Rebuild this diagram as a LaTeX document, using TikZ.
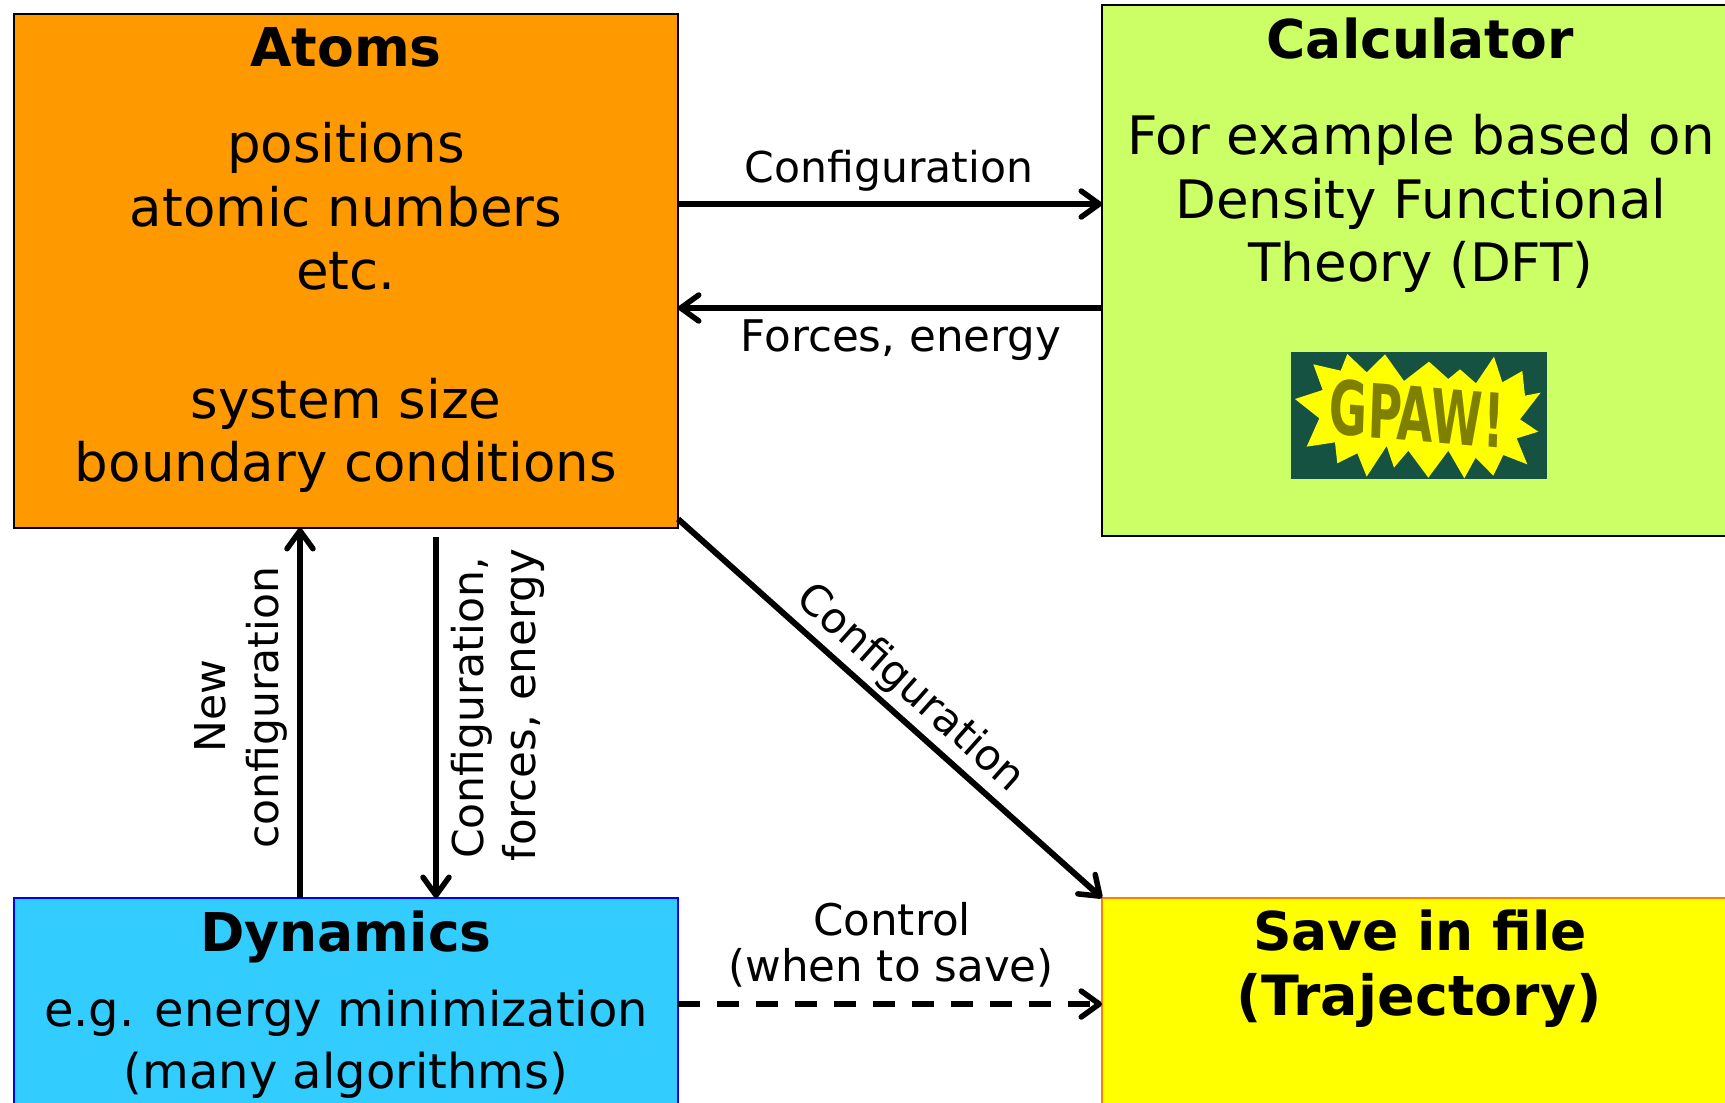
\documentclass[tikz,border=0pt]{standalone}
\usepackage{fontspec}
\setmainfont{DejaVu Sans}
\usetikzlibrary{arrows.meta}
\definecolor{atomsc}{HTML}{FF9900}
\definecolor{calcc}{HTML}{CCFF66}
\definecolor{dync}{HTML}{33CCFF}
\definecolor{savec}{HTML}{FFFF00}
\definecolor{gpawbg}{HTML}{155242}
\definecolor{gpawtx}{HTML}{808000}
\newcommand{\bigt}{\fontsize{53.5}{64}\selectfont}
\newcommand{\bodyt}{\fontsize{53}{64}\selectfont}
\newcommand{\midt}{\fontsize{48}{60}\selectfont}
\newcommand{\smallt}{\fontsize{42.5}{52}\selectfont}
\newcommand{\smallu}{\fontsize{43.6}{52}\selectfont}
\tikzset{
  boxn/.style={draw,line width=1.6pt,anchor=north west,inner sep=0pt,outer sep=0pt},
  title/.style={anchor=base,inner sep=0pt,font=\bigt\bfseries},
  body/.style={anchor=base,inner sep=0pt,font=\bodyt},
  bodym/.style={anchor=base,inner sep=0pt,font=\midt},
  lab/.style={anchor=base,inner sep=0pt,font=\smallt},
  labu/.style={anchor=base,inner sep=0pt,font=\smallu},
  conn/.style={line width=6pt,-{Straight Barb[length=18pt,width=26pt,line width=5.5pt,round]}},
}
\begin{document}
\begin{tikzpicture}[x=1pt,y=-1pt]
\useasboundingbox (0,0) rectangle (1725,1103);
\clip (0,0) rectangle (1725,1103);
% boxes
\node[boxn,fill=atomsc,minimum width=664pt,minimum height=514pt] (atoms) at (14,14) {};
\node[boxn,fill=calcc,minimum width=640pt,minimum height=531pt] (calc) at (1102,5) {};
\node[boxn,fill=dync,draw=blue,minimum width=664pt,minimum height=230pt] (dyn) at (14,898) {};
\node[boxn,fill=savec,draw=orange,minimum width=640pt,minimum height=230pt] (save) at (1102,898) {};
% atoms text
\node[title] (a0) at (346,66) {Atoms};
\node[body] (a1) at (346,162) {positions};
\node[body] (a2) at (346,226) {atomic numbers};
\node[body] (a3) at (346,289) {etc.};
\node[body] (a4) at (346,418) {system size};
\node[body] (a5) at (346,481) {boundary conditions};
% calculator text
\node[title] (c0) at (1420,58) {Calculator};
\node[body] (c1) at (1421,154) {For example based on};
\node[body] (c2) at (1421,218) {Density Functional};
\node[body] (c3) at (1421,281) {Theory (DFT)};
% GPAW logo
\fill[gpawbg] (1291,352) rectangle (1547,479);
\begin{scope}[shift={(1270,330)},x=0.3333pt,y=-0.3333pt]
\fill[savec] (75,207)--(158,180)--(130,103)--(212,122)--(232,72)--(290,127)--(345,73)--(402,153)--(477,95)--(535,147)--(570,118)--(618,160)--(672,80)--(697,157)--(757,123)--(765,197)--(812,188)--(750,268)--(805,305)--(740,325)--(772,403)--(700,375)--(670,437)--(617,383)--(583,445)--(535,362)--(475,443)--(415,362)--(372,413)--(350,348)--(290,440)--(262,370)--(202,400)--(195,337)--(110,350)--(148,265)--cycle;
\end{scope}
\node[inner sep=0pt,text=gpawtx,font=\fontsize{44}{44}\selectfont\bfseries,xscale=1.06,yscale=1.7,rotate=-3] (gpaw) at (1417,414) {GPAW!};
% dynamics text
\node[title] (d0) at (346,951) {Dynamics};
\node[bodym] (d1) at (346,1026) {e.g. energy minimization};
\node[bodym] (d2) at (346,1088) {(many algorithms)};
% save text
\node[title] (s0) at (1420,950) {Save in file};
\node[title,font=\fontsize{55.5}{64}\selectfont\bfseries] (s1) at (1419,1015) {(Trajectory)};
% connector end points
\coordinate (ae1) at (atoms.east |- 0,204);
\coordinate (ce1) at (calc.west |- 0,204);
\coordinate (ae2) at (atoms.east |- 0,308);
\coordinate (ce2) at (calc.west |- 0,308);
\coordinate (as1) at (300,528);
\coordinate (ds1) at (300,898);
\coordinate (as2) at (436,537);
\coordinate (ds2) at (436,898);
\coordinate (ad) at (678,519);
\coordinate (de) at (678,1004);
\coordinate (se) at (1102,1004);
% connectors
\draw[conn] (ae1) -- (ce1);
\draw[conn] (ce2) -- (ae2);
\draw[conn] (ds1) -- (as1);
\draw[conn] (as2) -- (ds2);
\draw[conn] (ad) -- (save.north west);
\draw[conn,dash pattern=on 22pt off 17pt] (de) -- (se);
% labels
\node[lab] (l1) at (889,182) {Configuration};
\node[labu] (l2) at (901,351) {Forces, energy};
\node[labu] (l3) at (892,935) {Control};
\node[labu] (l4) at (891,981) {(when to save)};
\node[lab,rotate=90] (l5a) at (225,706) {New};
\node[lab,rotate=90] (l5b) at (278,708) {configuration};
\node[lab,rotate=90] (l6a) at (483,708) {Configuration,};
\node[labu,rotate=90] (l6b) at (535,705) {forces, energy};
\node[lab,rotate=-41.7,anchor=center] (l7) at (910,689) {Configuration};
\end{tikzpicture}
\end{document}
